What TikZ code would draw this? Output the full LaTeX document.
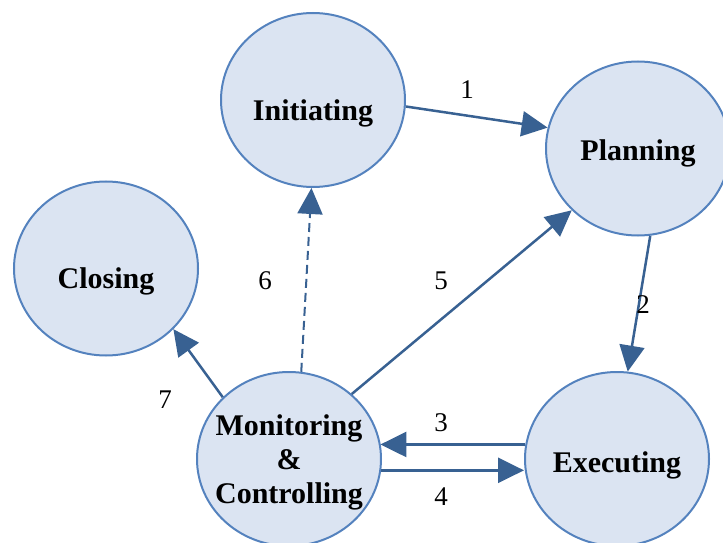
\documentclass[tikz,border=0pt]{standalone}
\usepackage{fontspec}
\setmainfont{Liberation Serif}
\usetikzlibrary{shapes.geometric,arrows.meta}
\definecolor{cfill}{RGB}{219,228,242}
\definecolor{cborder}{RGB}{84,130,190}
\definecolor{carrow}{RGB}{56,97,146}
\begin{document}
\begin{tikzpicture}[x=1pt,y=1pt,
  phase/.style={ellipse, draw=cborder, line width=2pt, fill=cfill,
    minimum width=184pt, minimum height=174pt, inner sep=0pt},
  ptext/.style={font=\fontsize{30}{34}\selectfont\bfseries, align=center, inner sep=0pt},
  flow/.style={draw=carrow, line width=2.5pt, -{Triangle[length=26pt,width=25pt]}},
  dflow/.style={flow, line width=2pt, dash pattern=on 9pt off 5pt},
  num/.style={font=\fontsize{27}{30}\selectfont, inner sep=0pt}]
\useasboundingbox (0,0) rectangle (723,542);
\node[phase, label={[ptext, name=tinit, yshift=-13pt]center:Initiating}] (init) at (313,442) {};
\node[phase, label={[ptext, name=tplan, yshift=-5pt]center:Planning}] (plan) at (638,393.5) {};
\node[phase, label={[ptext, name=tclose, yshift=-13pt]center:Closing}] (close) at (106,273.5) {};
\node[phase, label={[ptext, name=tmon, yshift=-3pt]center:Monitoring\\\&\\Controlling}] (mon) at (289,83) {};
\node[phase, label={[ptext, name=texec, yshift=-6pt]center:Executing}] (exec) at (617,83) {};

\draw[flow] (init.-4) -- (plan.167);
\draw[flow] (plan.-82) -- (exec.83);
\draw[flow] (exec.171) -- (mon.10 |- exec.171);
\draw[flow] (mon.-7) -- (exec.west |- mon.-7);
\draw[flow] (mon.46) -- (plan.223);
\draw[dflow] (mon.82) -- (init.269);
\draw[flow] (mon.137) -- (close.-42);

\node[num] (n1) at (467,452) {1};
\node[num] (n2) at (643,237) {2};
\node[num] (n3) at (441,119) {3};
\node[num] (n4) at (441,45)  {4};
\node[num] (n5) at (441,261) {5};
\node[num] (n6) at (265,261) {6};
\node[num] (n7) at (165,142) {7};
\end{tikzpicture}
\end{document}
